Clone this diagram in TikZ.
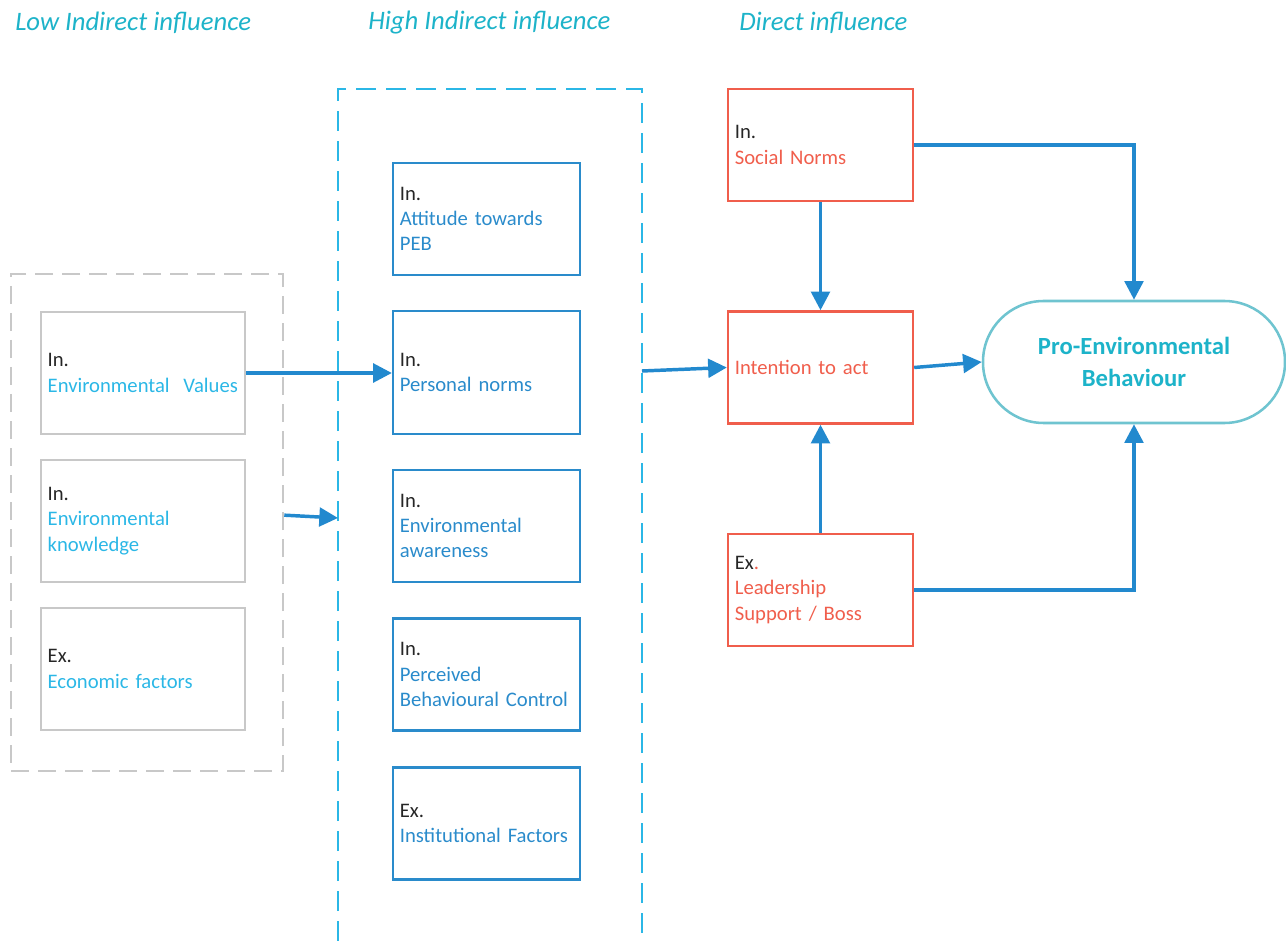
\documentclass[tikz,border=0pt]{standalone}
\usepackage{fontspec}
\setmainfont{Carlito}
\usetikzlibrary{arrows.meta,positioning}
\definecolor{ink}{HTML}{262626}
\definecolor{headTeal}{HTML}{1DB3C9}
\definecolor{pillLine}{HTML}{6FC4D0}
\definecolor{lowGray}{HTML}{C8C8C8}
\definecolor{skyBlue}{HTML}{2BB7E6}
\definecolor{boxBlue}{HTML}{2A8BCB}
\definecolor{flowBlue}{HTML}{2289CE}
\definecolor{coral}{HTML}{F05E4C}
\tikzset{
    heading/.style={font=\fontsize{20}{24}\selectfont\itshape, text=headTeal,
                    anchor=west, inner sep=0pt},
    factor/.style={rectangle, line width=1.7pt, inner xsep=5pt, align=left,
                   font=\fontsize{15.5}{19}\selectfont, text=ink},
    lowbox/.style={factor, draw=lowGray, minimum width=153pt,
                   minimum height=91.5pt, text width=143pt},
    highbox/.style={factor, draw=boxBlue, minimum width=140.25pt,
                    minimum height=84pt, text width=130pt},
    directbox/.style={factor, draw=coral, line width=1.8pt, minimum width=138.75pt,
                      minimum height=84pt, text width=128.5pt},
    lowframe/.style={draw=lowGray, line width=1.9pt,
                     dash pattern=on 13.5pt off 6.75pt},
    highframe/.style={draw=skyBlue, line width=1.8pt,
                      dash pattern=on 15pt off 7.5pt},
    outcome/.style={rectangle, rounded corners=45.5pt, draw=pillLine, line width=1.9pt,
                    minimum width=226.5pt, minimum height=91.5pt, align=center,
                    font=\fontsize{18.5}{23.5}\selectfont\bfseries, text=headTeal},
    link/.style={flowBlue, line width=2.6pt,
                 -{Triangle[length=14pt, width=14pt]}},
}

\begin{document}
\begin{tikzpicture}[x=0.75pt, y=-0.75pt]
\useasboundingbox (0,0) rectangle (1286,941);

% ---------------------------------------------------------------------------
% Headings
% ---------------------------------------------------------------------------
\node[heading] (hlow)  at (15,23)  {Low Indirect influence};
\node[heading] (hhigh) at (368,23) {High Indirect influence};
\node[heading] (hdir)  at (739,23) {Direct influence};

% ---------------------------------------------------------------------------
% Low indirect influence
% ---------------------------------------------------------------------------
\node[lowframe, minimum width=204pt, minimum height=372.75pt] (lowgrp)
    at (147,522.5) {};
\node[lowbox] (ev) at (143,373)
    {In.\\\textcolor{skyBlue}{Environmental~~Values}};
\node[lowbox] (ek) at (143,521)
    {In.\\\textcolor{skyBlue}{Environmental}\\\textcolor{skyBlue}{knowledge}};
\node[lowbox] (ef) at (143,669)
    {Ex.\\\textcolor{skyBlue}{Economic factors}};

% ---------------------------------------------------------------------------
% High indirect influence
% ---------------------------------------------------------------------------
\draw[highframe] (338,941) -- (338,89) -- (642,89) -- (642,941);
\coordinate (highin)  at (338,518);
\coordinate (highout) at (642,371);

\node[highbox] (att) at (486.5,219)
    {In.\\\textcolor{boxBlue}{Attitude towards}\\\textcolor{boxBlue}{PEB}};
\node[highbox, minimum height=92.25pt] (pn) at (486.5,372.5)
    {In.\\\textcolor{boxBlue}{Personal norms}};
\node[highbox] (ea) at (486.5,526)
    {In.\\\textcolor{boxBlue}{Environmental}\\\textcolor{boxBlue}{awareness}};
\node[highbox] (pbc) at (486.5,674.5)
    {In.\\\textcolor{boxBlue}{Perceived}\\\textcolor{boxBlue}{Behavioural Control}};
\node[highbox] (inst) at (486.5,823.5)
    {Ex.\\\textcolor{boxBlue}{Institutional Factors}};

% ---------------------------------------------------------------------------
% Direct influence
% ---------------------------------------------------------------------------
\node[directbox] (sn) at (820.5,145)
    {In.\\\textcolor{coral}{Social Norms}};
\node[directbox] (ita) at (820.5,367.5)
    {\textcolor{coral}{Intention to act}};
\node[directbox] (lead) at (820.5,590)
    {Ex\textcolor{coral}{.}\\\textcolor{coral}{Leadership}\\\textcolor{coral}{Support / Boss}};

\node[outcome] (peb) at (1134,362) {Pro-Environmental\\Behaviour};

% ---------------------------------------------------------------------------
% Connectors
% ---------------------------------------------------------------------------
\draw[link] (ev.east) -- (ev.east -| pn.west);
\draw[link] ([yshift=5.5pt]lowgrp.east) -- (highin);
\draw[link] (highout) -- (ita.west);
\draw[link] (ita.east) -- (peb.west);
\draw[link] (sn.south) -- (ita.north);
\draw[link] (lead.north) -- (ita.south);
\draw[link] (sn.east) -| (peb.north);
\draw[link] (lead.east) -| (peb.south);

\end{tikzpicture}
\end{document}
